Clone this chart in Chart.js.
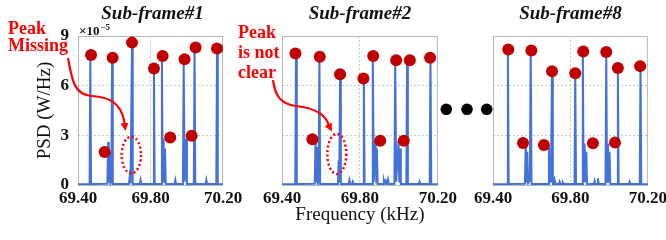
<!DOCTYPE html>
<html>
<head>
<meta charset="utf-8">
<script src="https://cdn.jsdelivr.net/npm/chart.js@4.4.1/dist/chart.umd.min.js"></script>
<style>
  html, body { margin: 0; padding: 0; background: #fff; overflow: hidden; }
  body { width: 666px; height: 240px; position: relative; }
  canvas { position: absolute; top: 0; }
  #c1 { left: 0; }
  #c2 { left: 232px; }
  #c3 { left: 466px; }
  svg { position: absolute; left: 0; top: 0; pointer-events: none; }
</style>
</head>
<body>
<canvas id="c1" width="246" height="240"></canvas>
<canvas id="c2" width="228" height="240"></canvas>
<canvas id="c3" width="204" height="240"></canvas>
<svg width="666" height="240" viewBox="0 0 666 240">
  <defs>
    <marker id="head" markerWidth="8" markerHeight="8" refX="4" refY="4" orient="auto" markerUnits="userSpaceOnUse">
      <path d="M0,0 L8,4 L0,8 z" fill="#f00"/>
    </marker>
  </defs>
  <g font-family="Liberation Serif" font-weight="bold" font-size="18" fill="#f00">
    <text x="8" y="34">Peak</text>
    <text x="8" y="51">Missing</text>
    <text x="238" y="38">Peak</text>
    <text x="238" y="58">is not</text>
    <text x="238" y="78">clear</text>
  </g>
  <path d="M68,58 C72,80 74,95 92,96 C108,97 120,102 124,120 L125,127" fill="none" stroke="#f00" stroke-width="2.2" marker-end="url(#head)"/>
  <path d="M273,80 C275,95 280,104 296,106 C315,108 326,114 329,126 L330,128" fill="none" stroke="#f00" stroke-width="2.2" marker-end="url(#head)"/>
  <ellipse cx="131.3" cy="155" rx="9.7" ry="18.3" fill="none" stroke="#f00" stroke-width="2.5" stroke-dasharray="2 2.5"/>
  <ellipse cx="336.8" cy="154" rx="9.5" ry="20" fill="none" stroke="#f00" stroke-width="2.5" stroke-dasharray="2 2.5"/>
  <circle cx="446.3" cy="109.3" r="5.8" fill="#000"/>
  <circle cx="467" cy="109.3" r="5.8" fill="#000"/>
  <circle cx="486.7" cy="109.3" r="5.8" fill="#000"/>
</svg>
<script>
// tick labels
const xTicks = [69.40, 69.80, 70.20];
const yTicks = [0, 3, 6, 9];

// sub-frame #1 spectrum (kHz, x1e-5 W/Hz)
const freq1 = [69.400, 69.464, 69.468, 69.472, 69.562, 69.566, 69.570, 69.575, 69.579, 69.584,
  69.588, 69.592, 69.681, 69.685, 69.690, 69.698, 69.702, 69.741, 69.745, 69.749,
  69.815, 69.819, 69.823, 69.859, 69.863, 69.867, 69.872, 69.876, 69.880, 69.884,
  69.933, 69.937, 69.941, 69.979, 69.983, 69.988, 69.997, 70.001, 70.039, 70.043,
  70.047, 70.104, 70.108, 70.112, 70.163, 70.167, 70.171, 70.200];
const psd1 = [0.05, 0.06, 7.85, 0.06, 0.08, 2.60, 0.15, 2.00, 0.10, 0.30,
  7.69, 0.06, 0.06, 0.50, 0.10, 8.60, 0.06, 0.06, 0.30, 0.06,
  0.06, 7.04, 0.06, 0.06, 7.79, 0.20, 2.80, 0.20, 2.20, 0.06,
  0.06, 0.30, 0.06, 0.06, 7.59, 0.20, 2.80, 0.06, 0.06, 8.30,
  0.06, 0.06, 0.30, 0.06, 0.06, 8.24, 0.06, 0.05];
const peakF1 = [69.472, 69.547, 69.591, 69.698, 69.819, 69.867, 69.909, 69.988, 70.027, 70.049, 70.167];
const peakP1 = [7.85, 2.00, 7.69, 8.60, 7.04, 7.79, 2.87, 7.59, 2.97, 8.30, 8.24];

// sub-frame #2
const freq2 = [69.400, 69.468, 69.472, 69.476, 69.568, 69.572, 69.576, 69.580, 69.584, 69.588,
  69.592, 69.596, 69.687, 69.691, 69.694, 69.698, 69.702, 69.742, 69.746, 69.750,
  69.759, 69.763, 69.767, 69.816, 69.820, 69.824, 69.862, 69.866, 69.871, 69.880,
  69.884, 69.887, 69.891, 69.919, 69.923, 69.928, 69.933, 69.938, 69.944, 69.948,
  69.977, 69.981, 69.986, 69.998, 70.002, 70.006, 70.010, 70.038, 70.042, 70.046,
  70.102, 70.106, 70.110, 70.158, 70.162, 70.166, 70.200];
const psd2 = [0.05, 0.06, 7.95, 0.06, 0.08, 2.70, 0.15, 2.30, 0.10, 0.30,
  7.75, 0.06, 0.06, 1.50, 0.15, 6.69, 0.06, 0.06, 0.30, 0.06,
  0.06, 0.20, 0.06, 0.06, 6.43, 0.06, 0.06, 7.79, 0.20, 2.70,
  0.15, 2.20, 0.06, 0.06, 0.30, 0.08, 0.25, 0.08, 0.35, 0.06,
  0.06, 7.53, 0.20, 2.70, 0.15, 2.20, 0.06, 0.06, 7.53, 0.06,
  0.06, 0.20, 0.06, 0.06, 7.69, 0.06, 0.05];
const peakF2 = [69.469, 69.556, 69.594, 69.698, 69.818, 69.868, 69.904, 69.986, 70.025, 70.056, 70.160];
const peakP2 = [7.95, 2.77, 7.75, 6.69, 6.43, 7.79, 2.67, 7.53, 2.67, 7.53, 7.69];

// sub-frame #8
const freq3 = [69.400, 69.473, 69.477, 69.481, 69.565, 69.569, 69.573, 69.577, 69.581, 69.590,
  69.595, 69.599, 69.685, 69.689, 69.692, 69.696, 69.699, 69.705, 69.709, 69.714,
  69.718, 69.722, 69.740, 69.744, 69.748, 69.757, 69.761, 69.765, 69.821, 69.825,
  69.829, 69.860, 69.864, 69.868, 69.873, 69.877, 69.882, 69.886, 69.921, 69.925,
  69.929, 69.938, 69.942, 69.946, 69.981, 69.985, 69.989, 69.994, 69.998, 70.002,
  70.006, 70.041, 70.045, 70.049, 70.102, 70.106, 70.110, 70.158, 70.162, 70.166, 70.200];
const psd3 = [0.05, 0.06, 8.19, 0.06, 0.08, 2.50, 0.15, 2.00, 0.10, 0.30,
  8.13, 0.06, 0.06, 2.30, 0.15, 1.80, 0.15, 6.87, 0.06, 0.06,
  0.30, 0.06, 0.06, 0.20, 0.06, 0.06, 0.15, 0.06, 0.06, 6.75,
  0.06, 0.06, 8.07, 0.20, 2.50, 0.15, 2.00, 0.06, 0.06, 0.25,
  0.06, 0.06, 0.40, 0.06, 0.06, 8.03, 0.20, 2.50, 0.15, 2.00,
  0.06, 0.06, 7.07, 0.06, 0.06, 0.20, 0.06, 0.06, 7.18, 0.06, 0.05];
const peakF3 = [69.479, 69.555, 69.598, 69.663, 69.705, 69.825, 69.866, 69.916, 69.985, 70.030, 70.045, 70.160];
const peakP3 = [8.19, 2.54, 8.13, 2.42, 6.87, 6.75, 8.07, 2.52, 8.03, 2.56, 7.07, 7.18];

const SERIF = "'Liberation Serif', 'DejaVu Serif', serif";
const BLUE = '#4472d8';
const DOT = '#c00000';

// box, title and exponent
const decor = {
  id: 'decor',
  beforeDatasetsDraw(chart, args, o) {
    const { ctx, chartArea: a } = chart;
    ctx.save();
    ctx.strokeStyle = '#b8b8b8';
    ctx.lineWidth = 1;
    ctx.strokeRect(a.left + 0.5, a.top + 0.5, a.width - 1, a.height);
    ctx.restore();
  },
  afterDraw(chart, args, o) {
    const { ctx, chartArea: a } = chart;
    ctx.save();
    ctx.fillStyle = '#111';
    ctx.font = 'italic bold 19px ' + SERIF;
    ctx.textAlign = 'center';
    ctx.textBaseline = 'alphabetic';
    ctx.fillText(o.title, (a.left + a.right) / 2 + (o.dx || 0), 18.5);
    if (o.exponent) {
      ctx.textAlign = 'left';
      ctx.font = 'bold 13px ' + SERIF;
      ctx.fillText('×10', a.left + 1, 35);
      const w = ctx.measureText('×10').width;
      ctx.font = 'bold 9px ' + SERIF;
      ctx.fillText('−5', a.left + 2 + w, 30);
    }
    ctx.restore();
  }
};

function makePanel(id, freq, psd, peakF, peakP, cfg) {
  const trace = freq.map((f, i) => ({ x: f, y: psd[i] }));
  const peaks = peakF.map((f, i) => ({ x: f, y: peakP[i] }));
  return new Chart(document.getElementById(id), {
    type: 'scatter',
    data: {
      datasets: [
        { data: peaks, order: 0, pointRadius: 6, pointHoverRadius: 6, pointBackgroundColor: DOT,
          pointBorderWidth: 0, showLine: false, clip: false },
        { data: trace, order: 1, showLine: true, borderColor: BLUE, borderWidth: 2, pointRadius: 0,
          pointHoverRadius: 0, tension: 0, fill: false }
      ]
    },
    options: {
      responsive: false,
      animation: false,
      devicePixelRatio: 1,
      layout: { padding: cfg.padding },
      events: [],
      plugins: {
        legend: { display: false },
        tooltip: { enabled: false },
        decor: { title: cfg.title, dx: cfg.dx, exponent: cfg.exponent }
      },
      scales: {
        x: {
          type: 'linear', min: 69.4, max: 70.2,
          afterBuildTicks: s => { s.ticks = xTicks.map(v => ({ value: v })); },
          afterFit: s => { s.height = 55; },
          ticks: { callback: v => v.toFixed(2), autoSkip: false, maxRotation: 0, padding: 3,
            color: '#111', font: { family: SERIF, size: 17, weight: 'bold' } },
          grid: { drawTicks: false, borderDash: [2, 2],
            color: c => (c.tick && Math.abs(c.tick.value - 69.8) < 1e-6) ? '#c8c8c8' : 'rgba(0,0,0,0)' },
          border: { display: false, dash: [2, 2] },
          title: { display: !!cfg.xTitle, text: cfg.xTitle || '', color: '#111',
            font: { family: SERIF, size: 19 }, padding: { top: 0, bottom: 14 } }
        },
        y: {
          min: 0, max: 9,
          afterBuildTicks: s => { s.ticks = yTicks.map(v => ({ value: v })); },
          afterFit: s => { s.width = cfg.yWidth; },
          ticks: { display: !!cfg.yLabels, padding: 9, color: '#111',
            font: { family: SERIF, size: 17, weight: 'bold' } },
          grid: { drawTicks: false, borderDash: [2, 2],
            color: c => (c.tick && (c.tick.value === 3 || c.tick.value === 6)) ? '#c8c8c8' : 'rgba(0,0,0,0)' },
          border: { display: false, dash: [2, 2] },
          title: { display: !!cfg.yTitle, text: cfg.yTitle || '', color: '#111',
            font: { family: SERIF, size: 19 }, padding: { top: 34, bottom: 0 } }
        }
      }
    },
    plugins: [decor]
  });
}

makePanel('c1', freq1, psd1, peakF1, peakP1, {
  title: 'Sub-frame#1', dx: 2, exponent: true, yLabels: true, yTitle: 'PSD (W/Hz)',
  yWidth: 78, padding: { left: 0, right: 23, top: 36, bottom: 0 }
});
makePanel('c2', freq2, psd2, peakF2, peakP2, {
  title: 'Sub-frame#2', xTitle: 'Frequency (kHz)',
  yWidth: 0, padding: { left: 50, right: 22, top: 36, bottom: 0 }
});
makePanel('c3', freq3, psd3, peakF3, peakP3, {
  title: 'Sub-frame#8',
  yWidth: 0, padding: { left: 27, right: 22, top: 36, bottom: 0 }
});
</script>
</body>
</html>
